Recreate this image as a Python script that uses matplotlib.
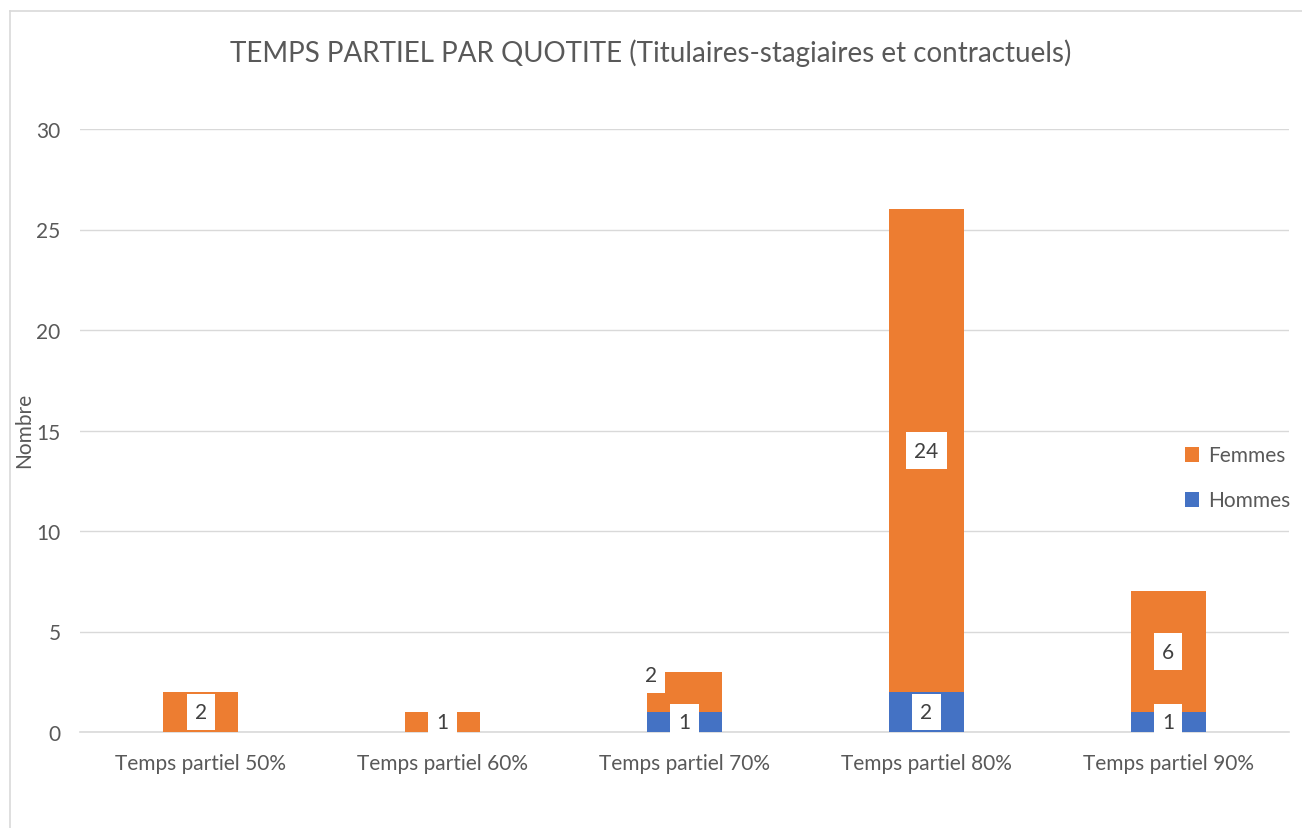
import numpy as np
import matplotlib.pyplot as plt
from matplotlib.lines import Line2D

plt.rcParams['font.family'] = ['Lato', 'DejaVu Sans']

categories = ['Temps partiel 50%', 'Temps partiel 60%', 'Temps partiel 70%',
              'Temps partiel 80%', 'Temps partiel 90%']
hommes = [0, 0, 1, 2, 1]
femmes = [2, 1, 2, 24, 6]

blue = '#4472C4'
orange = '#ED7D31'
txt = '#595959'

fig = plt.figure(figsize=(13.02, 8.29), dpi=100)
ax = fig.add_axes([80 / 1302, 96 / 829, 1209 / 1302, 603 / 829])

x = np.arange(len(categories))
w = 0.31
ax.bar(x, hommes, w, color=blue, label='Hommes', zorder=3)
ax.bar(x, femmes, w, bottom=hommes, color=orange, label='Femmes', zorder=3)

box = dict(boxstyle='square,pad=0.4', fc='white', ec='none')
for i in range(len(categories)):
    if hommes[i] > 0:
        ax.text(x[i], hommes[i] / 2, str(hommes[i]), ha='center', va='center',
                fontsize=15, color='#404040', bbox=box, zorder=4)
    if femmes[i] > 0:
        xi, yi = x[i], hommes[i] + femmes[i] / 2
        if i == 2:
            # label pushed aside to avoid the Hommes label
            ax.text(xi - 0.14, yi + 0.85, str(femmes[i]), ha='center', va='center',
                    fontsize=15, color='#404040', bbox=box, zorder=4)
        else:
            ax.text(xi, yi, str(femmes[i]), ha='center', va='center',
                    fontsize=15, color='#404040', bbox=box, zorder=4)

ax.set_xlim(-0.5, len(categories) - 0.5)
ax.set_ylim(0, 30)
ax.set_yticks(range(0, 31, 5))
ax.set_xticks(x)
ax.set_xticklabels(categories)
ax.grid(axis='y', color='#D9D9D9', linewidth=1, zorder=0)
for s in ['top', 'right', 'left']:
    ax.spines[s].set_visible(False)
ax.spines['bottom'].set_color('#D9D9D9')
ax.spines['bottom'].set_linewidth(1.2)
ax.tick_params(axis='both', length=0, labelsize=15, colors=txt)
ax.tick_params(axis='x', pad=15)
ax.tick_params(axis='y', pad=14)

fig.text(24 / 1302, 1 - 430 / 829, 'Nombre', rotation=90, ha='center', va='center',
         fontsize=15, color=txt)
fig.text(0.5, 1 - 53 / 829, 'TEMPS PARTIEL PAR QUOTITE (Titulaires-stagiaires et contractuels)',
         ha='center', va='center', fontsize=20, color=txt)

handles, labels = ax.get_legend_handles_labels()
fig.legend(handles[::-1], labels[::-1], loc='center left',
           bbox_to_anchor=(1166 / 1302, 1 - 479 / 829), frameon=False,
           fontsize=15, labelcolor=txt, handlelength=0.7, handleheight=0.7,
           labelspacing=1.2, handletextpad=0.4)

# chart border
fig.add_artist(Line2D([10 / 1302, 1], [1 - 12 / 829, 1 - 12 / 829], color='#D9D9D9', lw=1.2))
fig.add_artist(Line2D([10 / 1302, 10 / 1302], [0, 1 - 12 / 829], color='#D9D9D9', lw=1.2))

fig.savefig('out.png', dpi=100)
